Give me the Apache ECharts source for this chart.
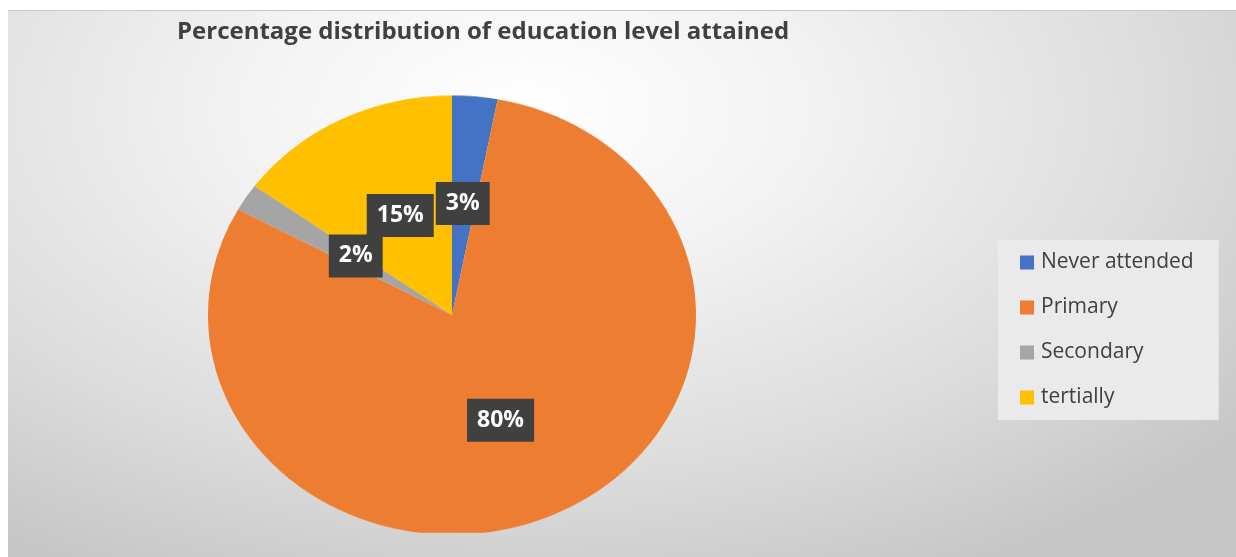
<!DOCTYPE html>
<html lang="en">
<head>
    <meta charset="UTF-8">
    <title>Education level</title>
    <style>
        * { margin: 0; }
        html, body { width: 100%; height: 100%; background: #fff; overflow: hidden; }
        #plate {
            position: absolute; left: 8px; top: 10px; width: 1228px; height: 547px;
            background: radial-gradient(ellipse 75% 95% at 42% 18%, #ffffff 0%, #f3f3f3 30%, #dcdcdc 70%, #c6c6c6 100%);
            border-top: 1px solid #c8c8c8;
        }
        /* the pie itself, squashed a little so it is an ellipse like the original */
        #pie {
            position: absolute; left: 0; top: 0; width: 1236px; height: 557px;
            transform-origin: 452px 315px;
            transform: scaleY(0.9);
        }
        #chart { position: absolute; left: 0; top: 0; width: 1236px; height: 557px; }
    </style>
</head>
<body>
    <div id="plate"></div>
    <div id="pie"></div>
    <div id="chart"></div>
    <script src="https://cdn.jsdelivr.net/npm/echarts@6/dist/echarts.min.js"></script>
    <script>
        var categories = ['Never attended', 'Primary', 'Secondary', 'tertially'];
        var values = [3, 80, 2, 15];
        var colors = ['#4472C4', '#ED7D31', '#A5A5A5', '#FFC000'];

        var pieData = [], labelData = [], legendData = [];
        for (var i = 0; i < categories.length; i++) {
            pieData.push({ name: categories[i], value: values[i], itemStyle: { color: colors[i] } });
            labelData.push({ name: categories[i], value: values[i], itemStyle: { color: 'rgba(0,0,0,0)' } });
            legendData.push({ name: categories[i], itemStyle: { color: colors[i] } });
        }

        // coloured slices
        var pie = echarts.init(document.getElementById('pie'));
        pie.setOption({
            animation: false,
            series: [{
                type: 'pie',
                center: [452, 315],
                radius: 244,
                startAngle: 90,
                clockwise: true,
                itemStyle: { borderWidth: 0 },
                label: { show: false },
                labelLine: { show: false },
                emphasis: { disabled: true },
                data: pieData
            }]
        });

        // title, legend and the value boxes (unsquashed text)
        var chart = echarts.init(document.getElementById('chart'));
        chart.setOption({
            animation: false,
            title: {
                text: 'Percentage distribution of education level attained',
                left: 172, top: 15,
                textStyle: { fontFamily: 'Open Sans', fontSize: 24, fontWeight: 'bold', color: '#404040' }
            },
            legend: {
                orient: 'vertical',
                left: 998, top: 240,
                padding: [12, 25, 12, 22],
                itemGap: 24,
                itemWidth: 14, itemHeight: 14,
                icon: 'rect',
                backgroundColor: '#eaeaea',
                textStyle: { fontFamily: 'Open Sans', fontSize: 21, color: '#404040', padding: [0, 0, 0, 2] },
                data: legendData
            },
            series: [{
                type: 'pie',
                center: [452, 317],
                radius: 222,
                startAngle: 90,
                clockwise: true,
                itemStyle: { borderWidth: 0 },
                label: {
                    show: true,
                    position: 'inside',
                    formatter: '{c}%',
                    fontFamily: 'Open Sans',
                    fontSize: 23,
                    fontWeight: 'bold',
                    color: '#ffffff',
                    backgroundColor: '#404040',
                    padding: [10, 10, 10, 10]
                },
                labelLayout: { hideOverlap: false },
                labelLine: { show: false },
                emphasis: { disabled: true },
                data: labelData
            }]
        });
    </script>
</body>
</html>
